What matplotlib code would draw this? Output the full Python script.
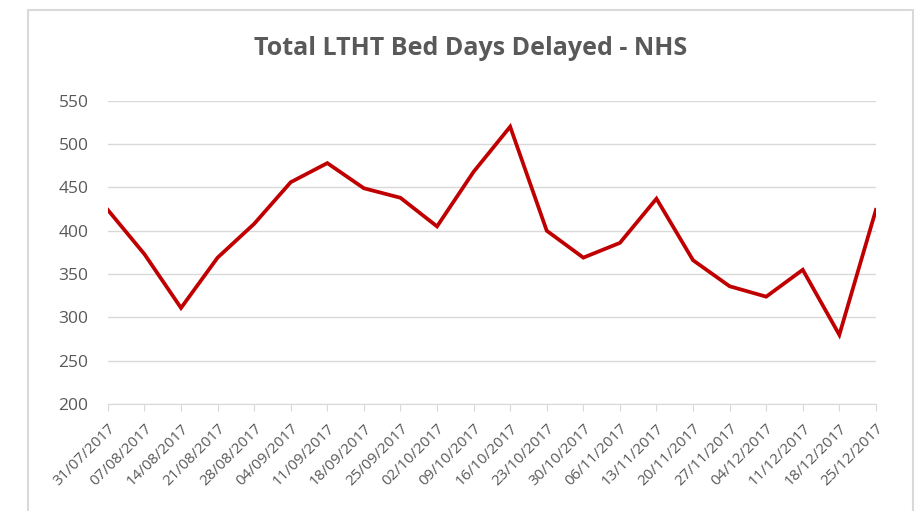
import matplotlib
matplotlib.use("Agg")
import matplotlib.pyplot as plt
from matplotlib.patches import Rectangle

# weekly totals
weeks = ["31/07/2017", "07/08/2017", "14/08/2017", "21/08/2017", "28/08/2017",
         "04/09/2017", "11/09/2017", "18/09/2017", "25/09/2017", "02/10/2017",
         "09/10/2017", "16/10/2017", "23/10/2017", "30/10/2017", "06/11/2017",
         "13/11/2017", "20/11/2017", "27/11/2017", "04/12/2017", "11/12/2017",
         "18/12/2017", "25/12/2017"]
bed_days = [424, 373, 311, 369, 408, 456, 478, 449, 438, 405,
            468, 520, 400, 369, 386, 437, 366, 336, 324, 355,
            280, 424]
y_ticks = [200, 250, 300, 350, 400, 450, 500, 550]

text_grey = "#595959"
grid_grey = "#D9D9D9"
plt.rcParams["font.family"] = ["Open Sans", "DejaVu Sans"]

fig = plt.figure(figsize=(9.22, 5.11), dpi=100)
ax = fig.add_axes([0.117, 0.209, 0.833, 0.594])

# outer chart border
fig.patches.append(Rectangle((28 / 922, -0.05), (913 - 28) / 922, 1.05 - 10 / 511,
                             transform=fig.transFigure, fill=False,
                             edgecolor=grid_grey, linewidth=1.5))

x = list(range(len(weeks)))
ax.plot(x, bed_days, color="#C00000", linewidth=2.7, solid_joinstyle="miter")

ax.set_xlim(0, len(weeks) - 1)
ax.set_ylim(200, 550)
ax.set_yticks(y_ticks)
ax.set_xticks(x)
ax.set_xticklabels(weeks, rotation=45, ha="right", rotation_mode="anchor",
                   fontsize=11, color=text_grey)
ax.tick_params(axis="y", length=0, labelsize=12.5, labelcolor=text_grey, pad=14)
ax.tick_params(axis="x", length=5, color=grid_grey, pad=7)

ax.grid(axis="y", color=grid_grey, linewidth=1)
ax.set_axisbelow(True)
for side in ["top", "right", "left"]:
    ax.spines[side].set_visible(False)
ax.spines["bottom"].set_color(grid_grey)

fig.text(0.51, 0.905, "Total LTHT Bed Days Delayed - NHS", ha="center", va="center",
         fontsize=18, fontweight="bold", color=text_grey)

fig.savefig("out.png", dpi=100, facecolor="white")
